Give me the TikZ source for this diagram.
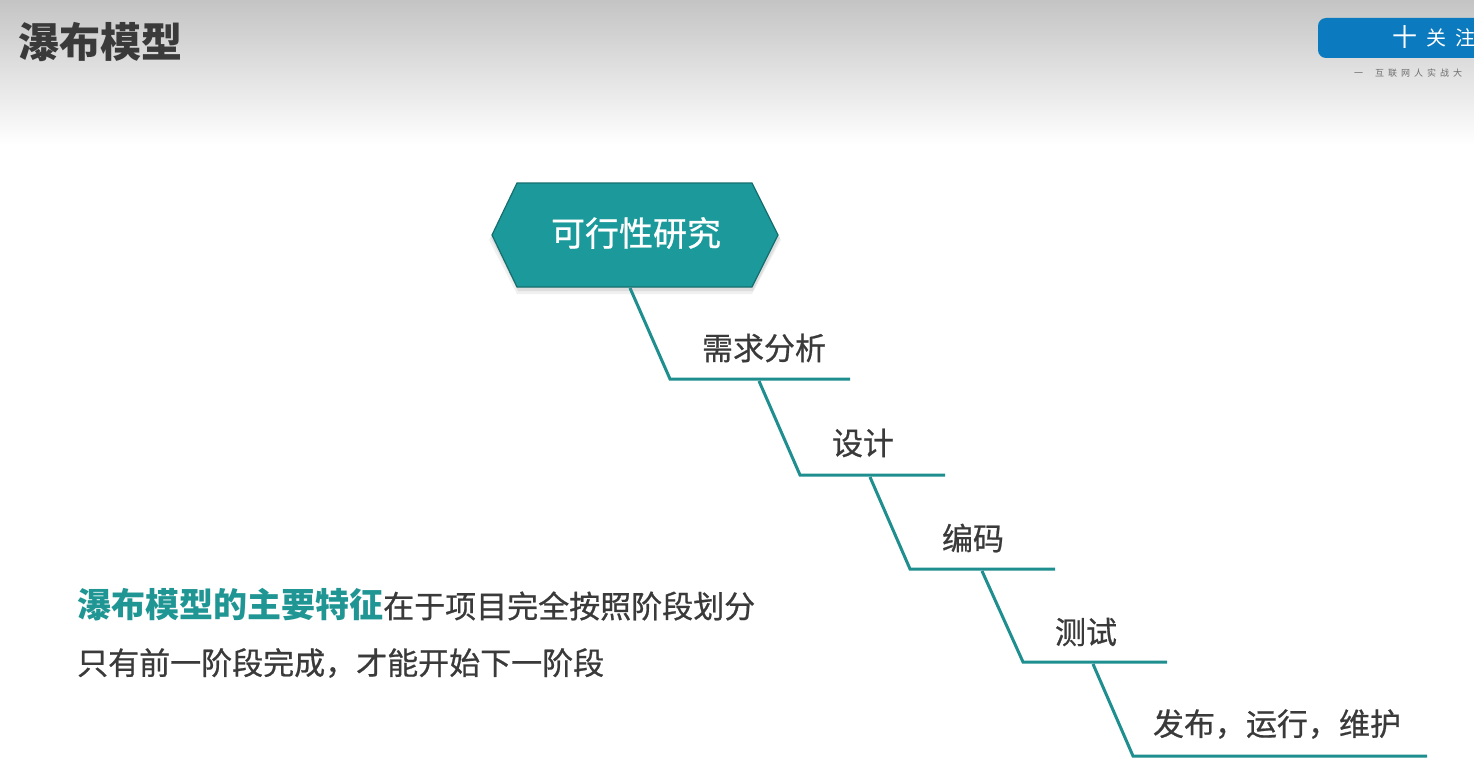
\documentclass[tikz,border=0pt]{standalone}
\usepackage{fontspec}
\setmainfont{Noto Sans CJK SC}
\newfontfamily\medfont{Noto Sans CJK SC}[FakeBold=0.7]
\definecolor{stairc}{RGB}{30,142,143}
\definecolor{hexfill}{RGB}{27,153,155}
\definecolor{hexedge}{RGB}{22,110,110}
\definecolor{tealtxt}{RGB}{32,150,148}
\definecolor{txt}{RGB}{58,58,58}
\definecolor{graytop}{RGB}{196,196,196}
\definecolor{btn}{RGB}{12,122,190}
\definecolor{smallgray}{RGB}{110,110,110}
\begin{document}
\begin{tikzpicture}[x=1pt,y=-1pt,
  stair/.style={draw=stairc, line width=3pt, line join=miter},
  lbl/.style={font=\medfont\fontsize{31}{31}\selectfont, text=txt, inner sep=0pt},
  body/.style={font=\medfont\fontsize{31}{31}\selectfont, text=txt, inner sep=0pt, anchor=west},
]
\useasboundingbox (0,0) rectangle (1474,776);
\begin{scope}
\clip (0,0) rectangle (1474,776);
\fill[white] (0,0) rectangle (1474,776);
\shade[top color=graytop, bottom color=white] (0,0) rectangle (1474,145);

% title
\node[font=\fontsize{41}{41}\selectfont\bfseries, text=txt, anchor=west, inner sep=0pt] (title) at (18,42) {瀑布模型};

% follow button
\fill[btn, rounded corners=8pt] (1318,18) rectangle (1500,58);
\node[font=\fontsize{25}{25}\selectfont, text=white, inner sep=0pt] (plus) at (1405,37) {十};
\node[font=\fontsize{20}{20}\selectfont, text=white, inner sep=0pt, anchor=west] (follow) at (1426,38) {关\kern9pt 注};
\node[font=\fontsize{9}{9}\selectfont, text=smallgray, inner sep=0pt, anchor=west] (slogan) at (1354,73)
  {一\kern12pt 互\kern4pt 联\kern4pt 网\kern4pt 人\kern4pt 实\kern4pt 战\kern4pt 大};

% hexagon shadow
\fill[black, opacity=0.06] (517,186) -- (752,186) -- (781,240) -- (752,294) -- (517,294) -- (489,240) -- cycle;
\fill[black, opacity=0.08] (518,185) -- (753,185) -- (780,238) -- (753,291) -- (518,291) -- (491,238) -- cycle;
% hexagon
\fill[hexfill, draw=hexedge, line width=1.2pt] (517,183) -- (752,183) -- (778,235) -- (752,287) -- (517,287) -- (492,235) -- cycle;
\node[font=\medfont\fontsize{34}{34}\selectfont, text=white, inner sep=0pt] (feas) at (636,233) {可行性研究};

% stairs
\coordinate (s1a) at (630,288);
\coordinate (s1b) at (670,379);
\coordinate (s1c) at (850,379);
\coordinate (s2a) at (759,381);
\coordinate (s2b) at (800,475);
\coordinate (s2c) at (945,475);
\coordinate (s3a) at (870,477);
\coordinate (s3b) at (910,569);
\coordinate (s3c) at (1055,569);
\coordinate (s4a) at (982,571);
\coordinate (s4b) at (1023,662);
\coordinate (s4c) at (1167,662);
\coordinate (s5a) at (1093,664);
\coordinate (s5b) at (1133,756);
\coordinate (s5c) at (1427,756);
\draw[stair] (s1a) -- (s1b) -- (s1c);
\draw[stair] (s2a) -- (s2b) -- (s2c);
\draw[stair] (s3a) -- (s3b) -- (s3c);
\draw[stair] (s4a) -- (s4b) -- (s4c);
\draw[stair] (s5a) -- (s5b) -- (s5c);

\node[lbl] (req) at (764,348) {需求分析};
\node[lbl] (des) at (863,443) {设计};
\node[lbl] (cod) at (973,538) {编码};
\node[lbl] (tst) at (1086,632) {测试};
\node[lbl] (rel) at (1277,724) {发布，运行，维护};

% bottom text
\node[body] (t1) at (77,605) {\textcolor{tealtxt}{\normalfont\fontsize{34}{34}\selectfont\bfseries 瀑布模型的主要特征}在于项目完全按照阶段划分};
\node[body] (t2) at (77,663) {只有前一阶段完成，才能开始下一阶段};
\end{scope}
\end{tikzpicture}
\end{document}
